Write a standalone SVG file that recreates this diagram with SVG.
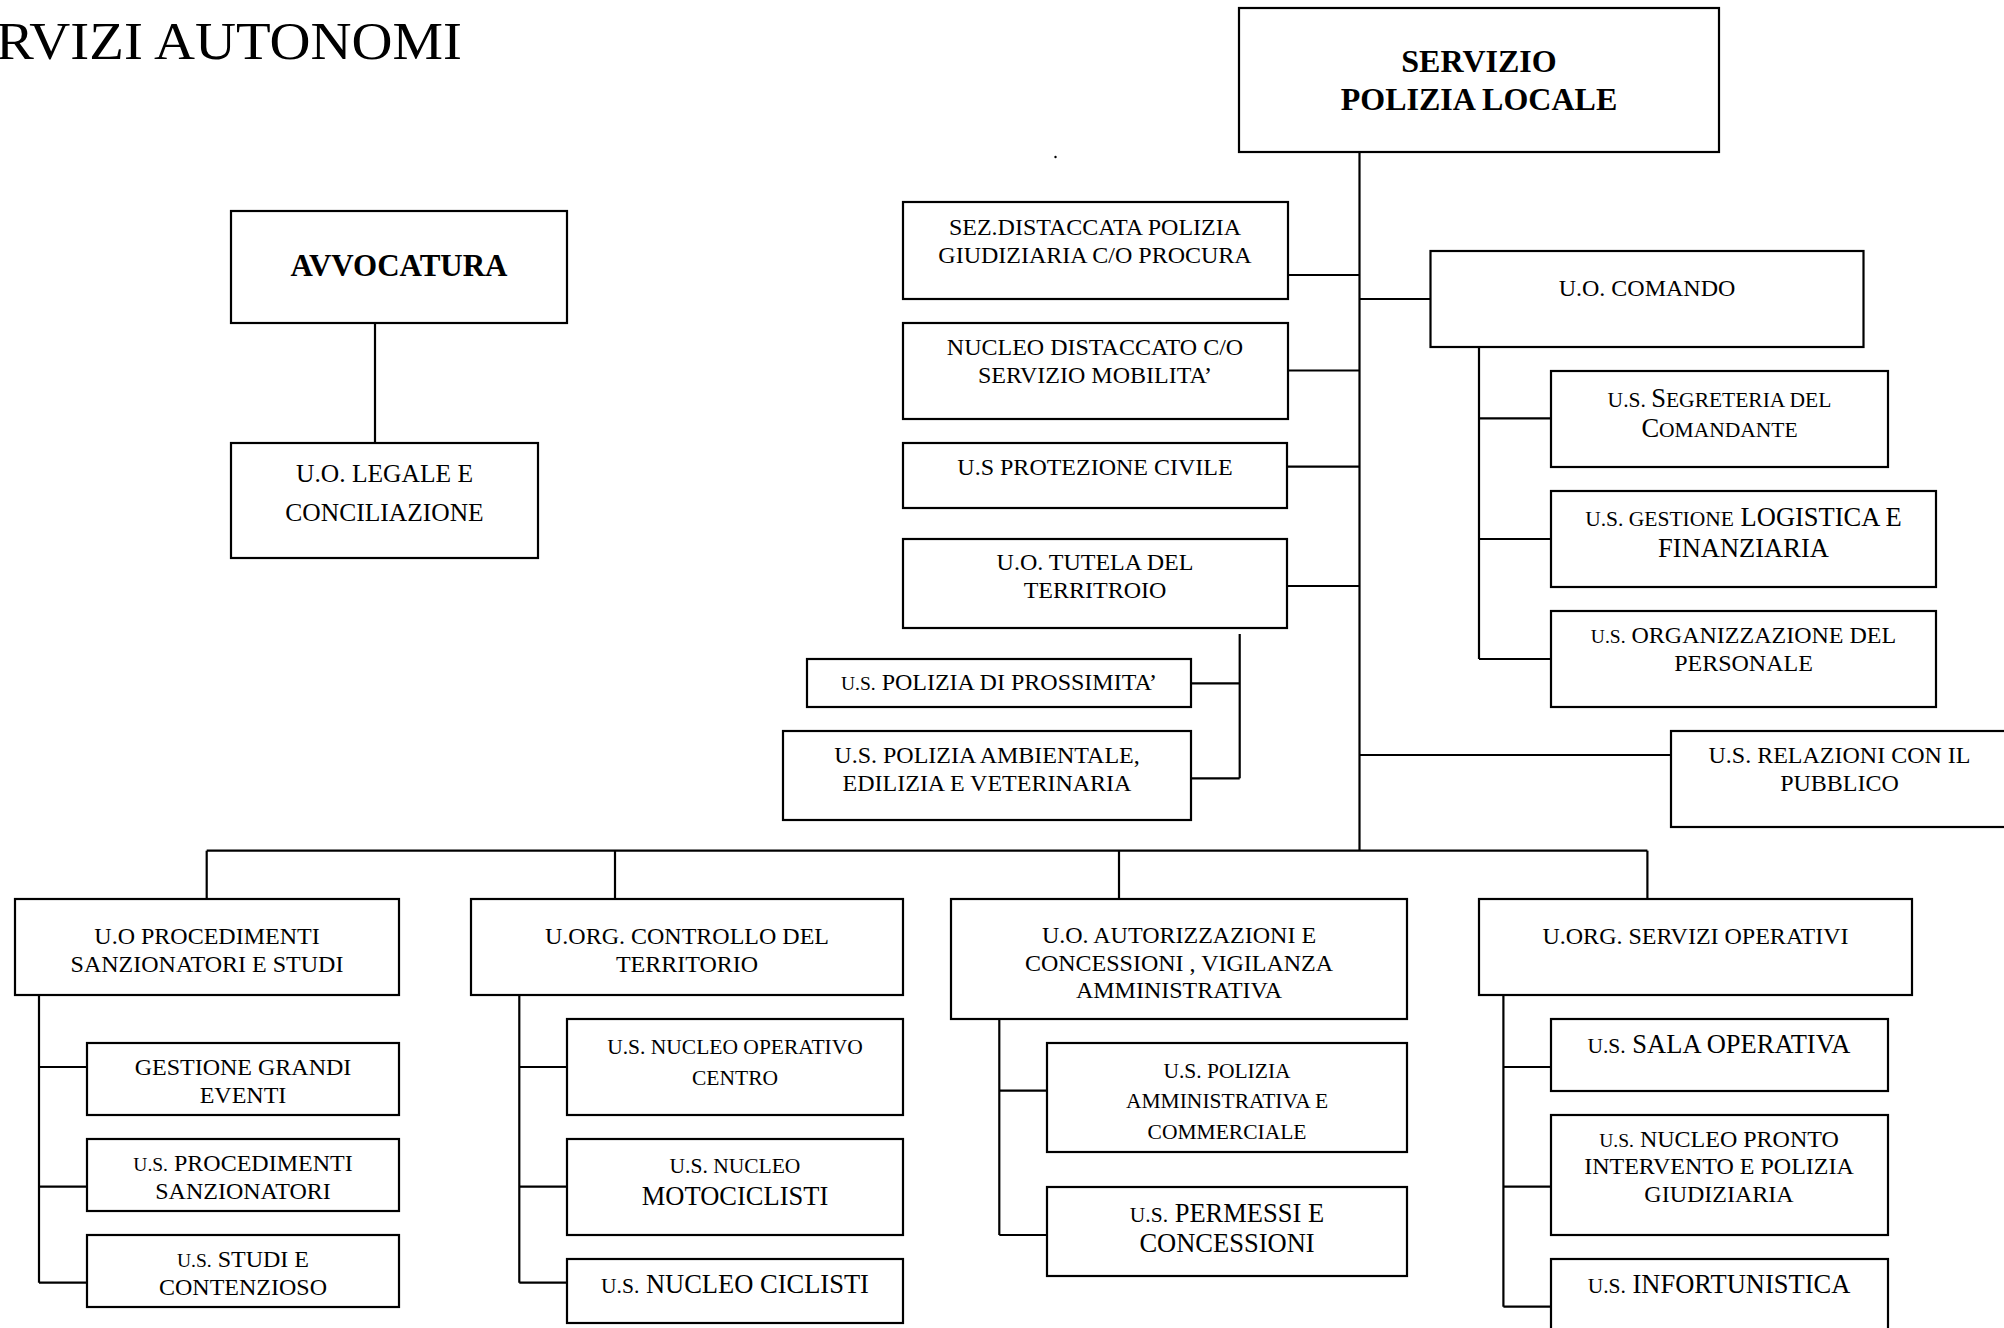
<svg xmlns="http://www.w3.org/2000/svg" width="2004" height="1328" viewBox="0 0 2004 1328">
<style>
  .box { fill: #fff; stroke: #000; stroke-width: 2.2; }
  .ln { stroke: #000; stroke-width: 2.2; fill: none; }
  text { font-family: "Liberation Serif", "Times New Roman", serif; fill: #000; text-anchor: middle; }
  .t { font-size: 24px; }
  .m { font-size: 21.5px; }
  .big { font-size: 26.5px; }
  .sc { font-size: 19.5px; }
  .sm { font-size: 21.5px; }
  .bold { font-weight: bold; font-size: 32px; }
  .title { font-size: 52px; text-anchor: start; }
</style>
<rect width="2004" height="1328" fill="#fff"/>
<text class="title" x="-4" y="59" textLength="466" lengthAdjust="spacingAndGlyphs">RVIZI AUTONOMI</text>
<circle cx="1055.5" cy="157" r="1.2" fill="#000"/>

<g id="connectors" class="ln">
  <line x1="375" y1="322" x2="375" y2="443"/>
  <line x1="1359.5" y1="152" x2="1359.5" y2="851"/>
  <line x1="1288" y1="275" x2="1359.5" y2="275"/>
  <line x1="1288" y1="370.5" x2="1359.5" y2="370.5"/>
  <line x1="1287" y1="466.7" x2="1359.5" y2="466.7"/>
  <line x1="1287" y1="586" x2="1359.5" y2="586"/>
  <line x1="1359.5" y1="299" x2="1430.5" y2="299"/>
  <line x1="1359.5" y1="755" x2="1671" y2="755"/>
  <line x1="1479" y1="347" x2="1479" y2="659"/>
  <line x1="1479" y1="418.3" x2="1551" y2="418.3"/>
  <line x1="1479" y1="539" x2="1551" y2="539"/>
  <line x1="1479" y1="659" x2="1551" y2="659"/>
  <line x1="1239.7" y1="634" x2="1239.7" y2="778.3"/>
  <line x1="1191" y1="683.3" x2="1239.7" y2="683.3"/>
  <line x1="1191" y1="778.3" x2="1239.7" y2="778.3"/>
  <line x1="206.7" y1="850.7" x2="1647.4" y2="850.7"/>
  <line x1="206.7" y1="850.7" x2="206.7" y2="899.3"/>
  <line x1="615" y1="850.7" x2="615" y2="899.3"/>
  <line x1="1119" y1="850.7" x2="1119" y2="899.3"/>
  <line x1="1647.4" y1="850.7" x2="1647.4" y2="899.3"/>
  <line x1="39" y1="995" x2="39" y2="1282.7"/>
  <line x1="39" y1="1067" x2="87" y2="1067"/>
  <line x1="39" y1="1186.7" x2="87" y2="1186.7"/>
  <line x1="39" y1="1282.7" x2="87" y2="1282.7"/>
  <line x1="519.3" y1="995" x2="519.3" y2="1282.7"/>
  <line x1="519.3" y1="1067" x2="567" y2="1067"/>
  <line x1="519.3" y1="1186.7" x2="567" y2="1186.7"/>
  <line x1="519.3" y1="1282.7" x2="567" y2="1282.7"/>
  <line x1="999.3" y1="1019" x2="999.3" y2="1235"/>
  <line x1="999.3" y1="1090.7" x2="1047" y2="1090.7"/>
  <line x1="999.3" y1="1235" x2="1047" y2="1235"/>
  <line x1="1503.4" y1="995" x2="1503.4" y2="1306.7"/>
  <line x1="1503.4" y1="1067" x2="1551" y2="1067"/>
  <line x1="1503.4" y1="1186.7" x2="1551" y2="1186.7"/>
  <line x1="1503.4" y1="1306.7" x2="1551" y2="1306.7"/>
</g>

<g id="servizio">
  <rect class="box" x="1239" y="8" width="480" height="144"/>
  <text class="bold" x="1479" y="72">SERVIZIO</text>
  <text class="bold" x="1479" y="110">POLIZIA LOCALE</text>
</g>
<g id="avvocatura">
  <rect class="box" x="231" y="211" width="336" height="112"/>
  <text class="bold" x="399" y="276" style="font-size:31px">AVVOCATURA</text>
</g>
<g id="legale">
  <rect class="box" x="231" y="443" width="307" height="115"/>
  <text x="384.5" y="482" style="font-size:25.5px">U.O. LEGALE E</text>
  <text x="384.5" y="520.5" style="font-size:25.5px">CONCILIAZIONE</text>
</g>
<g id="sez">
  <rect class="box" x="903" y="202" width="385" height="97"/>
  <text class="t" x="1095" y="235">SEZ.DISTACCATA POLIZIA</text>
  <text class="t" x="1095" y="263">GIUDIZIARIA C/O PROCURA</text>
</g>
<g id="nucleo-distaccato">
  <rect class="box" x="903" y="323" width="385" height="96"/>
  <text class="t" x="1095" y="355">NUCLEO DISTACCATO C/O</text>
  <text class="t" x="1095" y="383">SERVIZIO MOBILITA’</text>
</g>
<g id="protezione">
  <rect class="box" x="903" y="443" width="384" height="65"/>
  <text class="t" x="1095" y="475">U.S PROTEZIONE CIVILE</text>
</g>
<g id="tutela">
  <rect class="box" x="903" y="539" width="384" height="89"/>
  <text class="t" x="1095" y="570">U.O. TUTELA DEL</text>
  <text class="t" x="1095" y="598">TERRITROIO</text>
</g>
<g id="prossimita">
  <rect class="box" x="807" y="659" width="384" height="48"/>
  <text class="t" x="999" y="690"><tspan class="sc">U.S.</tspan> POLIZIA DI PROSSIMITA’</text>
</g>
<g id="ambientale">
  <rect class="box" x="783" y="731" width="408" height="89"/>
  <text class="t" x="987" y="763">U.S. POLIZIA AMBIENTALE,</text>
  <text class="t" x="987" y="791">EDILIZIA E VETERINARIA</text>
</g>
<g id="comando">
  <rect class="box" x="1430.5" y="251" width="433" height="96"/>
  <text class="t" x="1647" y="296">U.O. COMANDO</text>
</g>
<g id="segreteria">
  <rect class="box" x="1551" y="371" width="337" height="96"/>
  <text class="sm" x="1719.5" y="406.7">U.S. <tspan class="big">S</tspan>EGRETERIA DEL</text>
  <text class="sm" x="1719.5" y="437.3"><tspan class="big">C</tspan>OMANDANTE</text>
</g>
<g id="logistica">
  <rect class="box" x="1551" y="491" width="385" height="96"/>
  <text class="big" x="1743.5" y="525.7"><tspan class="sm">U.S. GESTIONE</tspan> LOGISTICA E</text>
  <text class="big" x="1743.5" y="556.7">FINANZIARIA</text>
</g>
<g id="organizzazione">
  <rect class="box" x="1551" y="611" width="385" height="96"/>
  <text class="t" x="1743.5" y="643.3"><tspan class="sc">U.S.</tspan> ORGANIZZAZIONE DEL</text>
  <text class="t" x="1743.5" y="670.7">PERSONALE</text>
</g>
<g id="relazioni">
  <rect class="box" x="1671" y="731" width="337" height="96"/>
  <text class="t" x="1839.5" y="762.7">U.S. RELAZIONI CON IL</text>
  <text class="t" x="1839.5" y="790.7">PUBBLICO</text>
</g>

<g id="procedimenti">
  <rect class="box" x="15" y="899" width="384" height="96"/>
  <text class="t" x="207" y="944.3">U.O PROCEDIMENTI</text>
  <text class="t" x="207" y="972.3">SANZIONATORI E STUDI</text>
</g>
<g id="grandi-eventi">
  <rect class="box" x="87" y="1043" width="312" height="72"/>
  <text class="t" x="243" y="1075">GESTIONE GRANDI</text>
  <text class="t" x="243" y="1103.3">EVENTI</text>
</g>
<g id="proc-sanzionatori">
  <rect class="box" x="87" y="1139" width="312" height="72"/>
  <text class="t" x="243" y="1171"><tspan class="sc">U.S.</tspan> PROCEDIMENTI</text>
  <text class="t" x="243" y="1199">SANZIONATORI</text>
</g>
<g id="studi">
  <rect class="box" x="87" y="1235" width="312" height="72"/>
  <text class="t" x="243" y="1267.3"><tspan class="sc">U.S.</tspan> STUDI E</text>
  <text class="t" x="243" y="1295">CONTENZIOSO</text>
</g>
<g id="controllo">
  <rect class="box" x="471" y="899" width="432" height="96"/>
  <text class="t" x="687" y="944.3">U.ORG. CONTROLLO DEL</text>
  <text class="t" x="687" y="972.3">TERRITORIO</text>
</g>
<g id="nucleo-operativo">
  <rect class="box" x="567" y="1019" width="336" height="96"/>
  <text class="m" x="735" y="1054">U.S. NUCLEO OPERATIVO</text>
  <text class="m" x="735" y="1085">CENTRO</text>
</g>
<g id="motociclisti">
  <rect class="box" x="567" y="1139" width="336" height="96"/>
  <text class="m" x="735" y="1173.3">U.S. NUCLEO</text>
  <text class="big" x="735" y="1205">MOTOCICLISTI</text>
</g>
<g id="ciclisti">
  <rect class="box" x="567" y="1259" width="336" height="64"/>
  <text class="big" x="735" y="1293.3"><tspan class="sm">U.S.</tspan> NUCLEO CICLISTI</text>
</g>
<g id="autorizzazioni">
  <rect class="box" x="951" y="899" width="456" height="120"/>
  <text class="t" x="1179" y="943.3">U.O. AUTORIZZAZIONI E</text>
  <text class="t" x="1179" y="971">CONCESSIONI , VIGILANZA</text>
  <text class="t" x="1179" y="998.3">AMMINISTRATIVA</text>
</g>
<g id="polizia-amministrativa">
  <rect class="box" x="1047" y="1043" width="360" height="109"/>
  <text class="m" x="1227" y="1078.3">U.S. POLIZIA</text>
  <text class="m" x="1227" y="1108.3">AMMINISTRATIVA E</text>
  <text class="m" x="1227" y="1139">COMMERCIALE</text>
</g>
<g id="permessi">
  <rect class="box" x="1047" y="1187" width="360" height="89"/>
  <text class="big" x="1227" y="1221.7"><tspan class="sm">U.S.</tspan> PERMESSI E</text>
  <text class="big" x="1227" y="1252.3">CONCESSIONI</text>
</g>
<g id="servizi-operativi">
  <rect class="box" x="1479" y="899" width="433" height="96"/>
  <text class="t" x="1695.5" y="944">U.ORG. SERVIZI OPERATIVI</text>
</g>
<g id="sala-operativa">
  <rect class="box" x="1551" y="1019" width="337" height="72"/>
  <text class="big" x="1719" y="1053.3"><tspan class="sm">U.S.</tspan> SALA OPERATIVA</text>
</g>
<g id="pronto-intervento">
  <rect class="box" x="1551" y="1115" width="337" height="120"/>
  <text class="t" x="1719" y="1146.7"><tspan class="sc">U.S.</tspan> NUCLEO PRONTO</text>
  <text class="t" x="1719" y="1174.3">INTERVENTO E POLIZIA</text>
  <text class="t" x="1719" y="1201.7">GIUDIZIARIA</text>
</g>
<g id="infortunistica">
  <rect class="box" x="1551" y="1259" width="337" height="80"/>
  <text class="big" x="1719" y="1293.3"><tspan class="sm">U.S.</tspan> INFORTUNISTICA</text>
</g>
</svg>
